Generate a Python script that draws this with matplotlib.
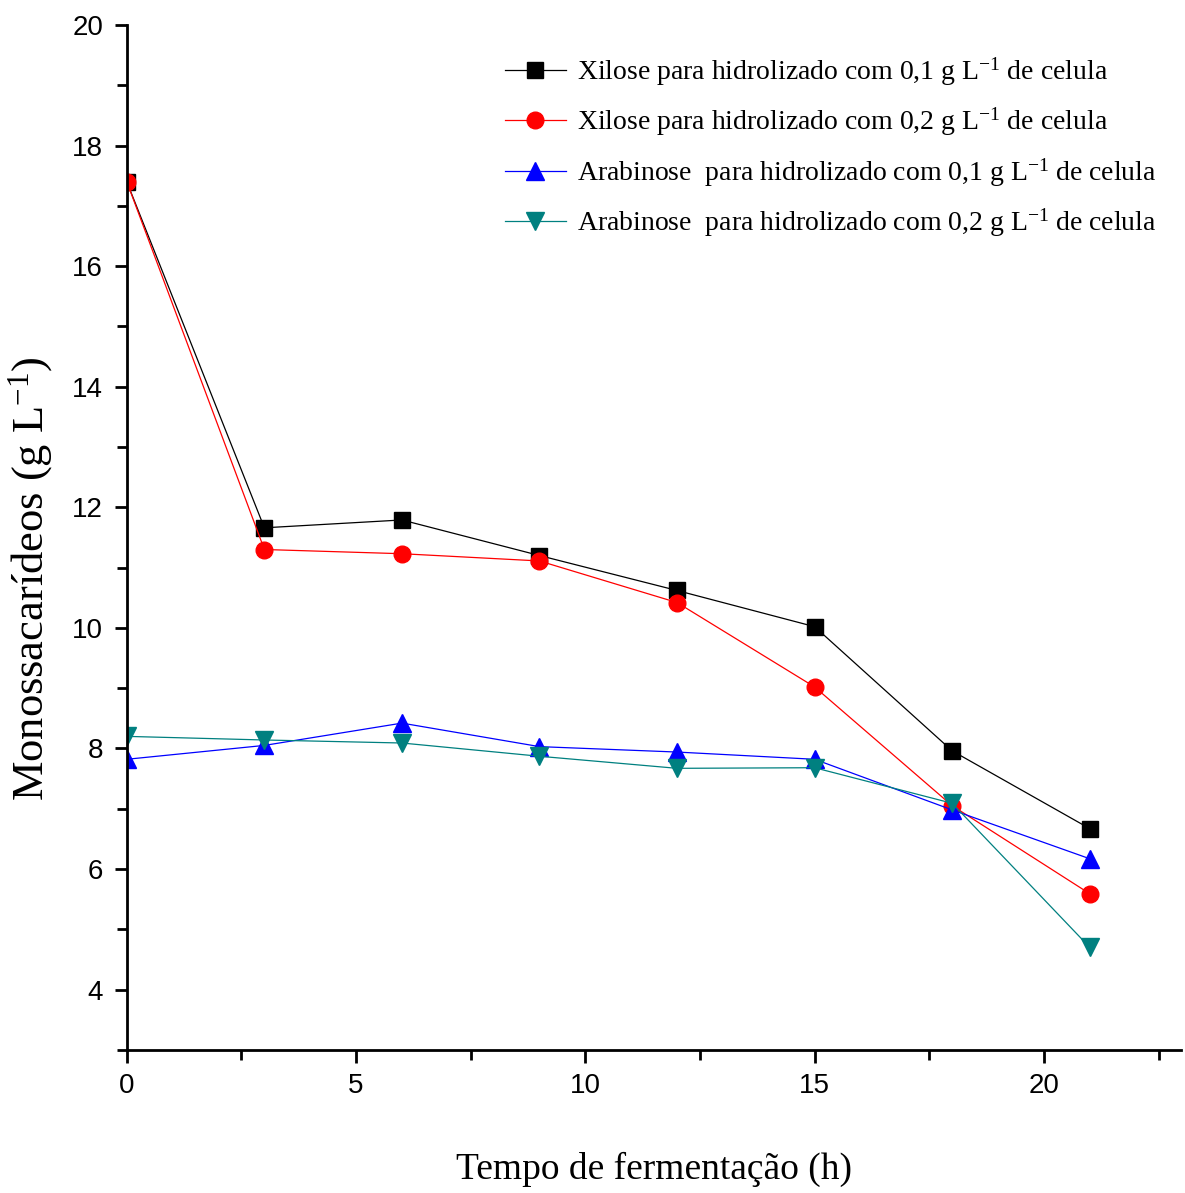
import matplotlib
matplotlib.use('Agg')
import matplotlib.pyplot as plt
from matplotlib.ticker import MultipleLocator

# tempo (h)
tempo = [0, 3, 6, 9, 12, 15, 18, 21]
xil_01 = [17.40, 11.66, 11.79, 11.20, 10.62, 10.02, 7.96, 6.67]
xil_02 = [17.40, 11.30, 11.23, 11.11, 10.42, 9.02, 7.05, 5.59]
ara_01 = [7.82, 8.05, 8.42, 8.03, 7.94, 7.82, 6.98, 6.17]
ara_02 = [8.20, 8.14, 8.09, 7.87, 7.67, 7.68, 7.09, 4.70]

rotulos = ['Xilose para hidrolizado com 0,1 g L$^{-1}$ de celula',
           'Xilose para hidrolizado com 0,2 g L$^{-1}$ de celula',
           'Arabinose  para hidrolizado com 0,1 g L$^{-1}$ de celula',
           'Arabinose  para hidrolizado com 0,2 g L$^{-1}$ de celula']

plt.rcParams['font.family'] = 'Liberation Serif'
plt.rcParams['mathtext.fontset'] = 'custom'
plt.rcParams['mathtext.rm'] = 'Liberation Serif'
plt.rcParams['mathtext.default'] = 'regular'

fig = plt.figure(figsize=(11.85, 11.93), dpi=100)
ax = fig.add_axes([0.107, 0.120, 0.890, 0.859])

ax.plot(tempo, xil_01, color='black', lw=0.9, marker='s', ms=11, label=rotulos[0])
ax.plot(tempo, xil_02, color='red', lw=0.9, marker='o', ms=12, label=rotulos[1])
ax.plot(tempo, ara_01, color='blue', lw=0.9, marker='^', ms=13, label=rotulos[2])
ax.plot(tempo, ara_02, color='#008080', lw=0.9, marker='v', ms=13, label=rotulos[3])

ax.set_xlim(0, 23)
ax.set_ylim(3, 20)
ax.xaxis.set_major_locator(MultipleLocator(5))
ax.xaxis.set_minor_locator(MultipleLocator(2.5))
ax.yaxis.set_major_locator(MultipleLocator(2))
ax.yaxis.set_minor_locator(MultipleLocator(1))
ax.set_yticks([4, 6, 8, 10, 12, 14, 16, 18, 20])

for s in ['top', 'right']:
    ax.spines[s].set_visible(False)
for s in ['left', 'bottom']:
    ax.spines[s].set_linewidth(2)
ax.tick_params(which='major', direction='out', length=9, width=2, labelsize=20, pad=8)
ax.tick_params(which='minor', direction='out', length=7, width=2)
for lab in ax.get_xticklabels() + ax.get_yticklabels():
    lab.set_family('Liberation Sans')

ax.set_xlabel('Tempo de fermentação (h)', fontsize=27, labelpad=38)
ax.set_ylabel('Monossacarídeos (g L$^{-1}$)', fontsize=32)
ax.yaxis.set_label_coords(-0.068, 0.46)

leg = ax.legend(loc='upper right', bbox_to_anchor=(1.0, 0.995), frameon=False, fontsize=20,
                handlelength=2.2, handletextpad=0.4, labelspacing=0.65)

fig.savefig('out.png', dpi=100)
